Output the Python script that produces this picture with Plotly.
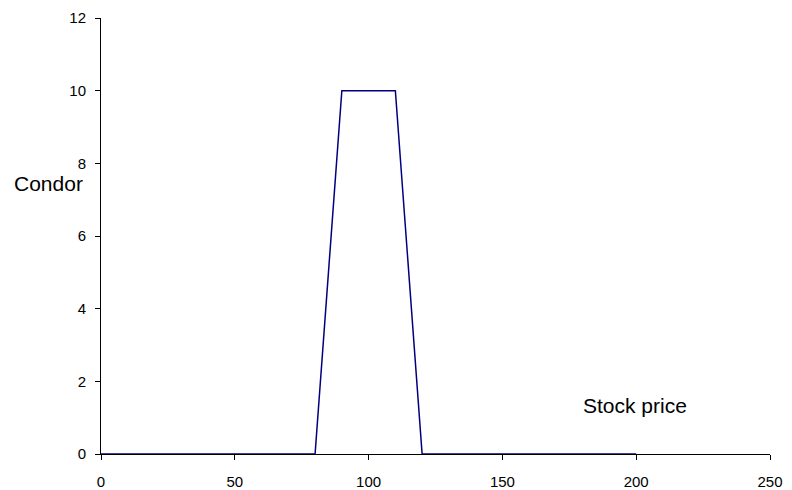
import plotly.graph_objects as go

# Condor spread payoff versus stock price
stock_price = [0, 10, 20, 30, 40, 50, 60, 70, 80, 90, 100, 110, 120, 130, 140, 150, 160, 170, 180, 190, 200]
condor = [0, 0, 0, 0, 0, 0, 0, 0, 0, 10, 10, 10, 0, 0, 0, 0, 0, 0, 0, 0, 0]

x_ticks = [0, 50, 100, 150, 200, 250]
y_ticks = [0, 2, 4, 6, 8, 10, 12]

FONT = "Arial, Liberation Sans, sans-serif"
tick_font = dict(family=FONT, size=15, color="#000000")
label_font = dict(family=FONT, size=21, color="#000000")

fig = go.Figure()
fig.add_trace(go.Scatter(
    x=stock_price, y=condor, mode="lines",
    line=dict(color="#000080", width=1.5),
    showlegend=False, cliponaxis=False,
))

ML, MR, MT, MB = 101, 22, 18, 36
W, H = 792, 490
plot_w = W - ML - MR
plot_h = H - MT - MB

fig.update_layout(
    width=W, height=H,
    margin=dict(l=ML, r=MR, t=MT, b=MB, autoexpand=False),
    paper_bgcolor="white", plot_bgcolor="white",
    font=tick_font,
    xaxis=dict(
        range=[0, 250], tickvals=x_ticks, ticks="outside", ticklen=5,
        tickcolor="#000000", showline=True, linecolor="#000000", linewidth=1,
        showgrid=False, zeroline=False, tickfont=tick_font,
        ticklabelstandoff=9, automargin=False,
    ),
    yaxis=dict(
        range=[0, 12], tickvals=y_ticks, ticks="outside", ticklen=5,
        tickcolor="#000000", showline=True, linecolor="#000000", linewidth=1,
        showgrid=False, zeroline=False, tickfont=tick_font,
        ticklabelstandoff=6, automargin=False,
    ),
    annotations=[
        dict(text="Condor", xref="paper", yref="paper",
             x=(48 - ML) / plot_w, y=(454 - 183) / plot_h,
             xanchor="center", yanchor="middle",
             showarrow=False, font=label_font),
        dict(text="Stock price", xref="paper", yref="paper",
             x=(635 - ML) / plot_w, y=(454 - 405) / plot_h,
             xanchor="center", yanchor="middle",
             showarrow=False, font=label_font),
    ],
)

fig.write_html("out.html")
